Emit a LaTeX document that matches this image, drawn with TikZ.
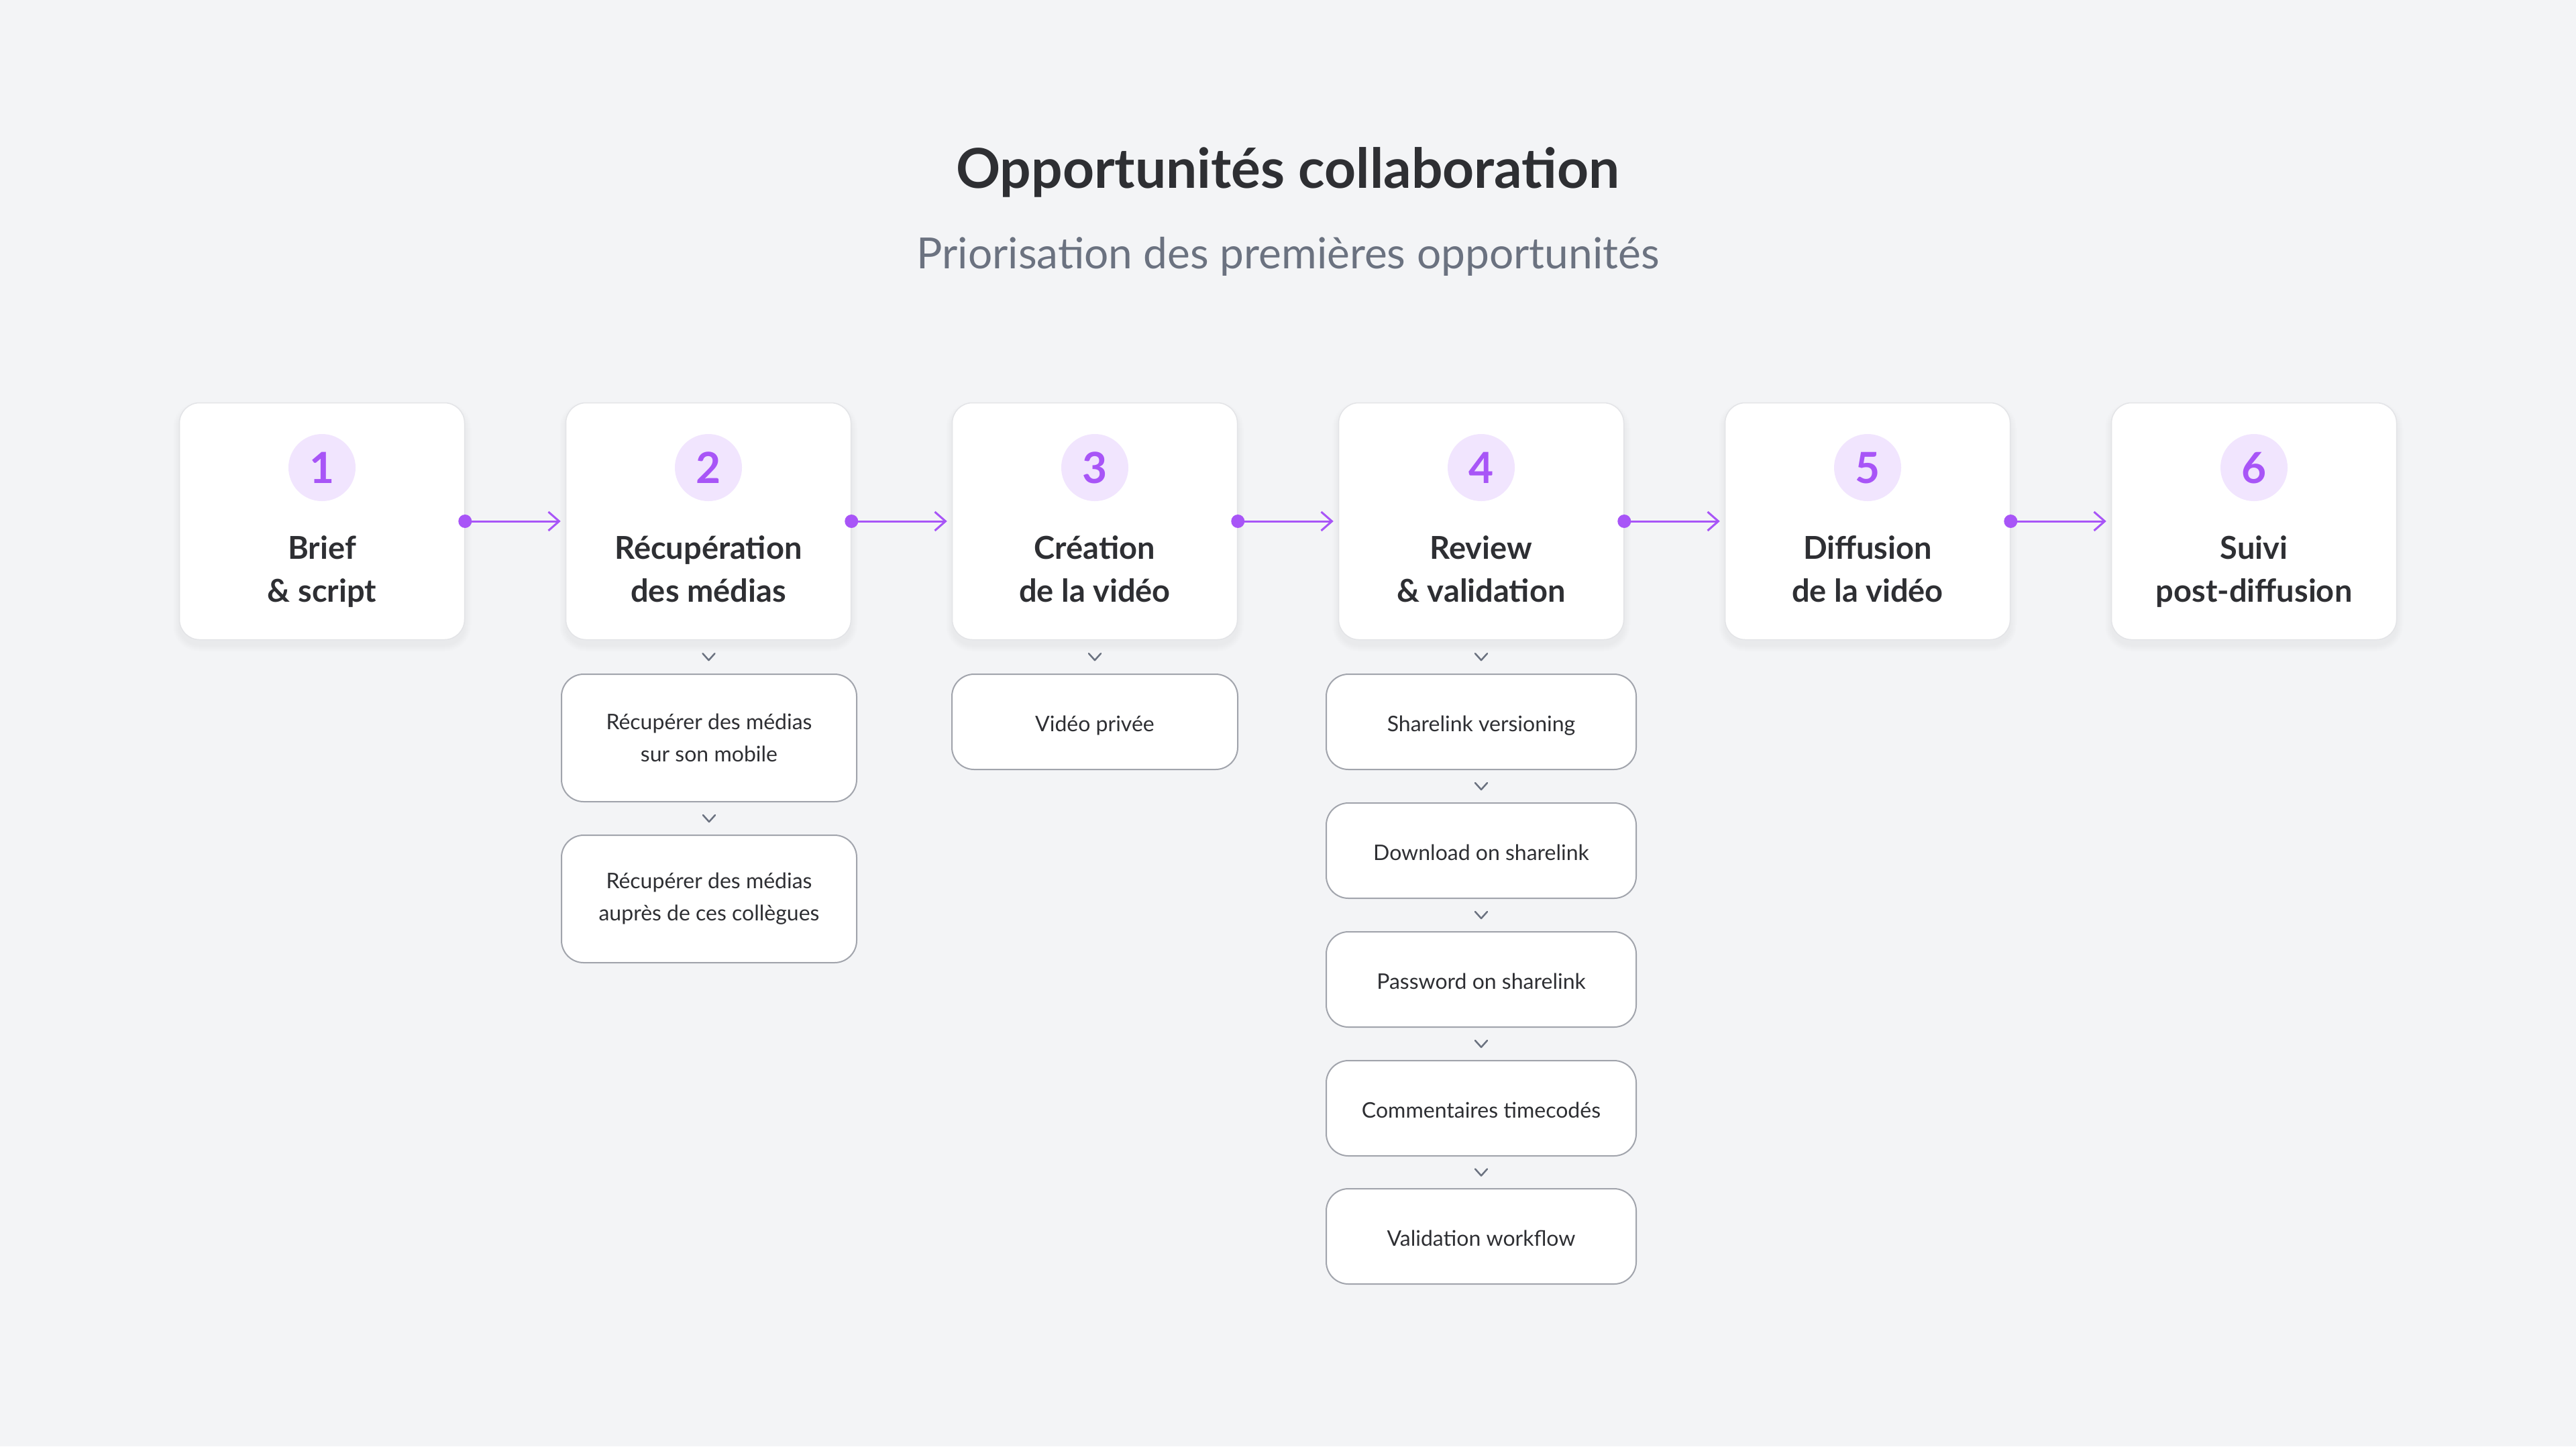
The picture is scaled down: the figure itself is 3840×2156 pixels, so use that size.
\documentclass[tikz,border=0pt]{standalone}
\usepackage{fontspec}
\setmainfont{Lato}
\usetikzlibrary{arrows.meta,calc}
\definecolor{bg}{HTML}{F3F4F6}
\definecolor{purp}{HTML}{A855F7}
\definecolor{lav}{HTML}{F1E5FE}
\definecolor{ink}{HTML}{2E2F33}
\definecolor{subink}{HTML}{6B7280}
\definecolor{bord}{HTML}{E3E4E7}
\definecolor{sbord}{HTML}{A1A4AC}
\definecolor{chev}{HTML}{6B7280}
\tikzset{
  mainbox/.style={draw=bord, line width=1.5pt, fill=white, rounded corners=30pt,
    minimum width=425pt, minimum height=353pt, inner sep=0pt},
  numcirc/.style={circle, fill=lav, minimum size=100pt, inner sep=0pt, text=purp,
    font=\fontsize{64}{64}\bfseries\selectfont, text height=46pt, text depth=0pt},
  headtxt/.style={anchor=base, text=ink, inner sep=0pt, font=\fontsize{47}{64}\bfseries\selectfont},
  subbox/.style={draw=sbord, line width=2pt, fill=white, rounded corners=33pt,
    minimum height=142pt, inner sep=0pt, align=center, text=ink,
    font=\fontsize{32}{48}\selectfont},
  flow/.style={draw=purp, line width=3pt, -{Straight Barb[length=16pt,width=28pt,line width=3pt]}, shorten >=7pt},
  chevron/.style={draw=chev, line width=2.5pt, line cap=round, line join=round},
}
\newcommand\mystep[5]{%
  \foreach \k in {1,...,10}{
    \fill[black, opacity=0.005, rounded corners=30+\k] (#2-212.5-\k,600.5-\k+8) rectangle (#2+212.5+\k,953.5+\k+8);
  }
  \node[mainbox] (b#1) at (#2,777) {};
  \node[numcirc] (c#1) at (#2,697) {#3};
  \node[headtxt] (ta#1) at (#2,833) {#4};
  \node[headtxt] (tb#1) at (#2,897) {#5};
}
\newcommand\mychev[2]{%
  \draw[chevron] ($(#1.south)!0.5!(#2.north)+(-9,-5)$) -- ++(9,10) -- ++(9,-10);
}
\begin{document}
\begin{tikzpicture}[x=1pt,y=-1pt]
\fill[bg] (0,0) rectangle (3840,2156);
\useasboundingbox (0,0) rectangle (3840,2156);

\node[anchor=base, text=ink, inner sep=0pt, font=\fontsize{82}{90}\bfseries\selectfont] (title) at (1920,280) {Opportunités collaboration};
\node[anchor=base, text=subink, inner sep=0pt, font=\fontsize{64}{70}\selectfont] (subtitle) at (1920,400) {Priorisation des premières opportunités};

\mystep{1}{480}{1}{Brief}{\& script}
\mystep{2}{1056}{2}{Récupération}{des médias}
\mystep{3}{1632}{3}{Création}{de la vidéo}
\mystep{4}{2208}{4}{Review}{\& validation}
\mystep{5}{2784}{5}{Diffusion}{de la vidéo}
\mystep{6}{3360}{6}{Suivi}{post-diffusion}

\foreach \a/\b in {1/2,2/3,3/4,4/5,5/6}{
  \draw[flow] (b\a.east) -- (b\b.west);
  \fill[purp] (b\a.east) circle (10pt);
}

% column 2
\tikzset{two/.style={subbox, minimum width=440pt, minimum height=190pt}}
\node[two] (s21) at (1057,1100) {Récupérer des médias\\sur son mobile};
\node[two] (s22) at (1057,1340) {Récupérer des médias\\auprès de ces collègues};
\mychev{b2}{s21}
\mychev{s21}{s22}

% column 3
\node[subbox, minimum width=426pt, text height=28pt, text depth=0pt] (s31) at (1632,1076) {Vidéo privée};
\mychev{b3}{s31}

% column 4
\tikzset{one/.style={subbox, minimum width=462pt, text height=28pt, text depth=0pt}}
\node[one] (s41) at (2208,1076) {Sharelink versioning};
\node[one] (s42) at (2208,1268) {Download on sharelink};
\node[one] (s43) at (2208,1460) {Password on sharelink};
\node[one] (s44) at (2208,1652) {Commentaires timecodés};
\node[one] (s45) at (2208,1843) {Validation workflow};
\mychev{b4}{s41}
\mychev{s41}{s42}
\mychev{s42}{s43}
\mychev{s43}{s44}
\mychev{s44}{s45}
\end{tikzpicture}
\end{document}
